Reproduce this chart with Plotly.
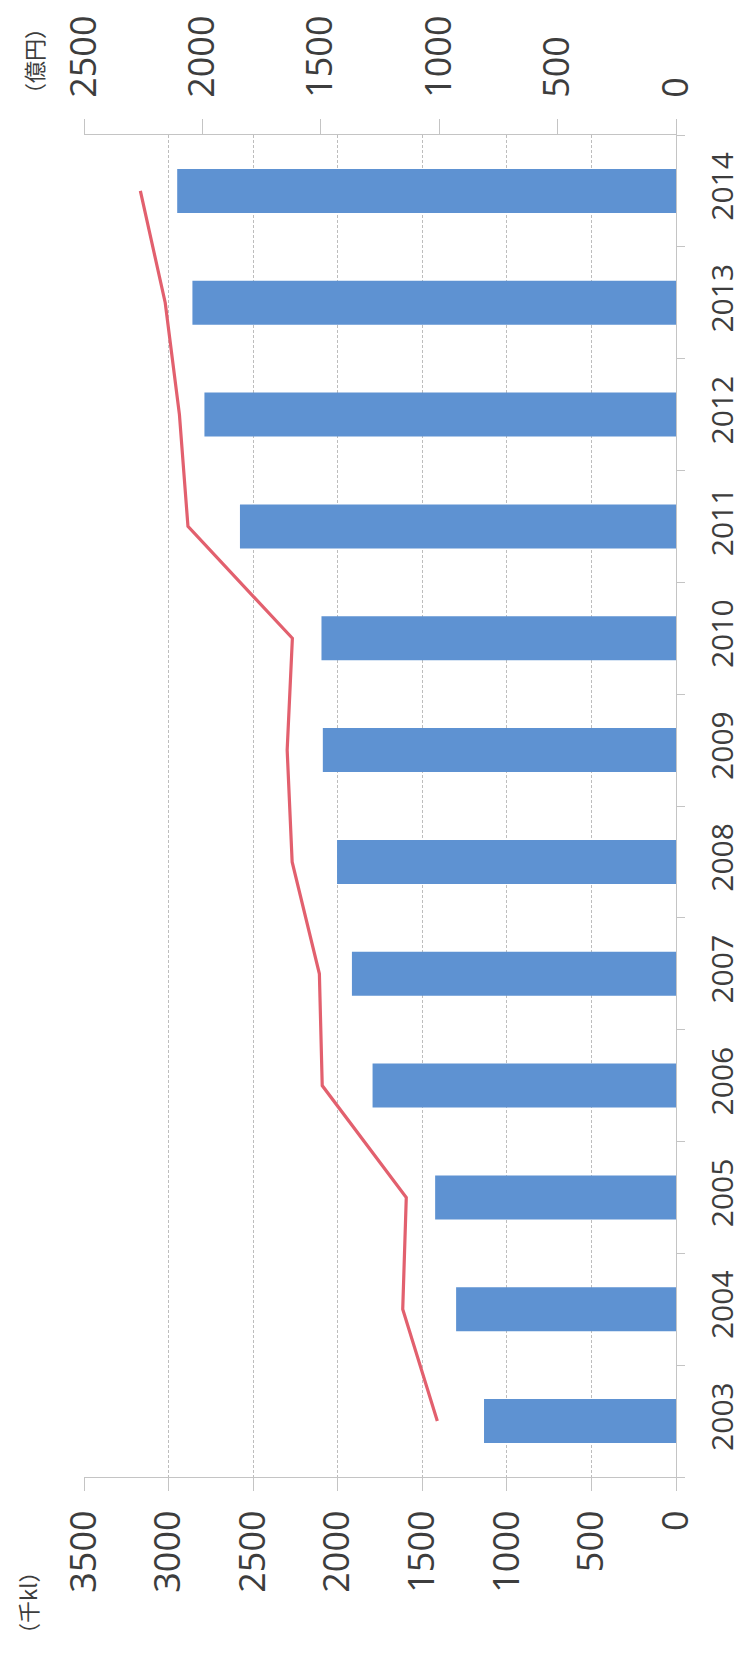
import plotly.graph_objects as go

years = ["2003", "2004", "2005", "2006", "2007", "2008",
         "2009", "2010", "2011", "2012", "2013", "2014"]
volume_kl = [1135, 1300, 1424, 1794, 1916, 2004, 2088, 2096, 2578, 2788, 2859, 2949]
value_oku_yen = [1008, 1154, 1139, 1494, 1506, 1621, 1642, 1620, 2061, 2097, 2157, 2262]

kl_ticks = [0, 500, 1000, 1500, 2000, 2500, 3000, 3500]
yen_ticks = [0, 500, 1000, 1500, 2000, 2500]

FONT = "Open Sans, Noto Sans, DejaVu Sans"
TXT = "#3d3d3d"
AXC = "#c4c4c4"

fig = go.Figure()
fig.add_trace(go.Bar(
    x=volume_kl, y=years, orientation="h",
    marker=dict(color="#5E92D2", line=dict(width=0)),
    xaxis="x", yaxis="y", showlegend=False,
))
fig.add_trace(go.Scatter(
    x=value_oku_yen, y=years, mode="lines",
    line=dict(color="#E2606E", width=3.2),
    xaxis="x2", yaxis="y", showlegend=False,
))

fig.update_layout(
    width=741, height=1653,
    margin=dict(l=84, r=65, t=135, b=176, pad=0),
    paper_bgcolor="white", plot_bgcolor="white",
    bargap=0.606,
    font=dict(family=FONT, color=TXT),
    xaxis=dict(
        range=[3500, 0], tickvals=kl_ticks, ticktext=[str(v) for v in kl_ticks],
        tickangle=-90, tickfont=dict(size=36, color=TXT, family=FONT),
        ticks="outside", ticklen=13, tickcolor=AXC, ticklabelstandoff=5,
        showgrid=True, gridcolor="#bdbdbd", gridwidth=1, griddash="3px,2px",
        showline=True, linecolor=AXC, linewidth=1, zeroline=False,
        automargin=False, fixedrange=True,
    ),
    xaxis2=dict(
        overlaying="x", side="top", anchor="y",
        range=[2500, 0], tickvals=yen_ticks, ticktext=[str(v) for v in yen_ticks],
        tickangle=-90, tickfont=dict(size=36, color=TXT, family=FONT),
        ticks="outside", ticklen=15, tickcolor=AXC, ticklabelstandoff=14,
        showgrid=False, showline=True, linecolor=AXC, linewidth=1, zeroline=False,
        automargin=False,
    ),
    yaxis=dict(
        type="category", categoryorder="array", categoryarray=years,
        range=[-0.5, 11.5], side="right",
        tickangle=-90, tickfont=dict(size=30, color=TXT, family=FONT),
        ticks="outside", tickson="boundaries", ticklen=8, tickcolor=AXC,
        ticklabelstandoff=20,
        showgrid=False, showline=True, linecolor=AXC, linewidth=1, zeroline=False,
        automargin=False,
    ),
)

# axis unit labels (rotated like the rest of the chart)
def paper_x(px):
    return (px - 84) / (741 - 84 - 65)

def paper_y(py):
    return (1653 - 176 - py) / (1653 - 135 - 176)

fig.add_annotation(
    text="（千kl）", textangle=-90, showarrow=False,
    xref="paper", yref="paper", x=paper_x(27), y=paper_y(1603),
    xanchor="center", yanchor="middle",
    font=dict(size=22, color=TXT, family="Noto Sans CJK JP"),
)
fig.add_annotation(
    text="（億円）", textangle=-90, showarrow=False,
    xref="paper", yref="paper", x=paper_x(33), y=paper_y(61),
    xanchor="center", yanchor="middle",
    font=dict(size=22, color=TXT, family="Noto Sans CJK JP"),
)

fig.write_html("out.html")
